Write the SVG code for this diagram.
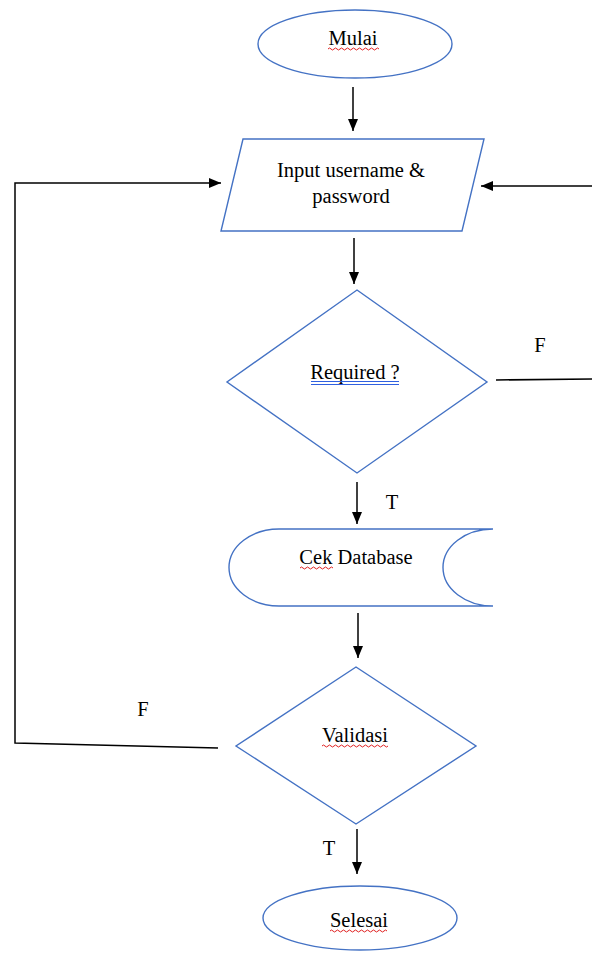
<svg xmlns="http://www.w3.org/2000/svg" width="592" height="953" viewBox="0 0 592 953">
<defs>
<marker id="ahb" viewBox="0 0 10 10" refX="10" refY="5" markerWidth="12" markerHeight="10" markerUnits="userSpaceOnUse" orient="auto" preserveAspectRatio="none">
<path d="M0,0 L10,5 L0,10 Z" fill="#000"/>
</marker>
</defs>
<style>
.shape{fill:#fff;stroke:#4472C4;stroke-width:1.4}
.lbl{font-family:"Liberation Serif","Times New Roman",serif;font-size:20.5px;fill:#000;text-anchor:middle}
.conn{fill:none;stroke:#000;stroke-width:1.5}
.arr{marker-end:url(#ahb)}
.sq{fill:none;stroke:#e02020;stroke-width:1}
.gq{fill:none;stroke:#3060e0;stroke-width:1}
</style>
<rect width="592" height="953" fill="#fff"/>
<g id="connectors">
<line class="conn arr" x1="353" y1="87" x2="353" y2="131"/>
<line class="conn arr" x1="354" y1="238" x2="354" y2="284"/>
<line class="conn arr" x1="357" y1="482" x2="357" y2="524"/>
<line class="conn arr" x1="358" y1="613" x2="358" y2="658"/>
<line class="conn arr" x1="357" y1="829" x2="357" y2="874"/>
<polyline class="conn arr" points="218,748 15,743 15,183 221,183"/>
<polyline class="conn" points="496,380 592,379"/>
<line class="conn arr" x1="592" y1="186" x2="481" y2="186"/>
</g>
<g id="labels">
<text class="lbl" x="540" y="352">F</text>
<text class="lbl" x="392" y="509">T</text>
<text class="lbl" x="143" y="716">F</text>
<text class="lbl" x="329" y="855">T</text>
</g>
<g id="mulai">
<ellipse class="shape" cx="355" cy="44" rx="97" ry="34"/>
<text class="lbl" x="353" y="45">Mulai</text>
<path class="sq" d="M328,49 q1.5,-2 3,0 t3,0 t3,0 t3,0 t3,0 t3,0 t3,0 t3,0 t3,0 t3,0 t3,0 t3,0 t3,0 t3,0 t3,0 t3,0 t3,0"/>
</g>
<g id="input">
<polygon class="shape" points="243,139 484,139 462,231 221,231"/>
<text class="lbl" x="351" y="177">Input username &amp;</text>
<text class="lbl" x="351" y="203">password</text>
</g>
<g id="required">
<polygon class="shape" points="357,290 487,382 357,473 227,382"/>
<text class="lbl" x="355" y="379">Required ?</text>
<line class="gq" x1="311" y1="381.5" x2="399" y2="381.5"/>
<line class="gq" x1="311" y1="384.5" x2="399" y2="384.5"/>
</g>
<g id="cekdb">
<path class="shape" d="M493,529 L279,529 A50,38.5 0 0 0 279,606 L493,606 A50,38.5 0 0 1 493,529"/>
<text class="lbl" x="356" y="564">Cek Database</text>
<path class="sq" d="M300,568 q1.5,-2 3,0 t3,0 t3,0 t3,0 t3,0 t3,0 t3,0 t3,0 t3,0 t3,0 t3,0"/>
</g>
<g id="validasi">
<polygon class="shape" points="356,667 476,746 356,824 236,746"/>
<text class="lbl" x="355" y="742">Validasi</text>
<path class="sq" d="M322,746 q1.5,-2 3,0 t3,0 t3,0 t3,0 t3,0 t3,0 t3,0 t3,0 t3,0 t3,0 t3,0 t3,0 t3,0 t3,0 t3,0 t3,0 t3,0 t3,0 t3,0 t3,0 t3,0 t3,0"/>
</g>
<g id="selesai">
<ellipse class="shape" cx="360" cy="918" rx="97" ry="32"/>
<text class="lbl" x="359" y="927">Selesai</text>
<path class="sq" d="M330,931 q1.5,-2 3,0 t3,0 t3,0 t3,0 t3,0 t3,0 t3,0 t3,0 t3,0 t3,0 t3,0 t3,0 t3,0 t3,0 t3,0 t3,0 t3,0 t3,0 t3,0"/>
</g>
</svg>
